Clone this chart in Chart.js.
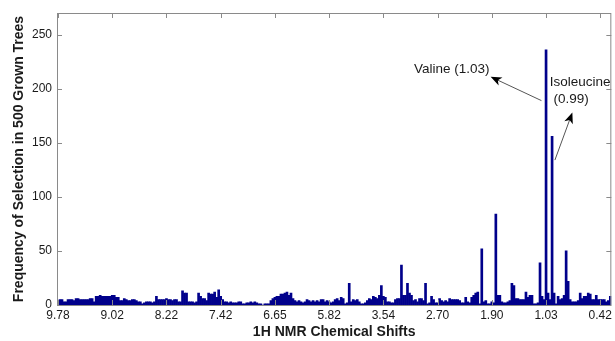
<!DOCTYPE html>
<html>
<head>
<meta charset="utf-8">
<script src="https://cdn.jsdelivr.net/npm/chart.js@4.4.0/dist/chart.umd.min.js"></script>
<style>
  html, body { margin: 0; padding: 0; background: #fff; }
  #wrap { width: 615px; height: 341px; }
</style>
</head>
<body>
<div id="wrap"><canvas id="myChart" width="615" height="341"></canvas></div>
<script>
// tick labels along the x axis (ppm), one every binsPerLabel bars
const shiftLabels = ['9.78', '9.02', '8.22', '7.42', '6.65', '5.82', '3.54', '2.70', '1.90', '1.03', '0.42'];
const binsPerLabel = 27;
const yTicks = [0, 50, 100, 150, 200, 250];

// frequency of selection for each spectral bin, left to right
const frequency = [
  2, 5, 5, 3, 3, 5, 5, 5, 4, 6,
  6, 5, 5, 5, 5, 5, 6, 6, 3, 8,
  8, 9, 8, 8, 8, 8, 8, 9, 9, 7,
  7, 4, 4, 6, 5, 4, 4, 5, 5, 4,
  3, 3, 1, 2, 3, 3, 3, 2, 3, 8,
  5, 5, 5, 5, 6, 5, 5, 4, 5, 5,
  3, 3, 13, 11, 11, 3, 3, 3, 2, 3,
  11, 8, 6, 6, 4, 11, 10, 10, 12, 7,
  14, 8, 5, 3, 3, 2, 3, 2, 2, 2,
  3, 3, 1, 1, 2, 2, 3, 2, 3, 2,
  1, 1, 0, 1, 1, 1, 4, 6, 7, 8,
  8, 10, 10, 11, 12, 9, 11, 6, 4, 3,
  4, 3, 2, 3, 5, 4, 3, 4, 3, 4,
  3, 5, 5, 3, 4, 3, 2, 3, 5, 6,
  4, 7, 6, 1, 2, 20, 3, 5, 4, 5,
  3, 1, 1, 2, 4, 6, 5, 8, 7, 6,
  9, 18, 8, 7, 3, 3, 2, 2, 5, 6,
  6, 37, 9, 9, 20, 11, 9, 4, 5, 3,
  6, 6, 4, 20, 1, 2, 8, 5, 2, 2,
  6, 4, 3, 4, 3, 6, 5, 5, 5, 5,
  4, 2, 2, 7, 3, 2, 7, 9, 11, 12,
  1, 52, 3, 4, 1, 1, 3, 2, 84, 9,
  9, 3, 2, 2, 3, 4, 20, 18, 6, 6,
  5, 5, 5, 12, 7, 9, 9, 1, 1, 2,
  39, 8, 5, 236, 11, 5, 156, 11, 1, 8,
  5, 6, 9, 50, 22, 5, 3, 3, 3, 4,
  11, 6, 8, 8, 11, 10, 5, 5, 9, 5,
  5, 5, 5, 3, 4, 8
];
const bins = frequency.map((v, i) => i);

// callouts, in data units (bin index, frequency)
const notes = [
  { text: ['Valine (1.03)'], at: [177.2, 218], tail: [240.7, 189], head: [215.4, 211] },
  { text: ['Isoleucine', ' (0.99)'], at: [244.8, 206], tail: [247.4, 134], head: [256.1, 178] }
];

const font = '"Liberation Sans", Arial, sans-serif';
const axisGray = '#8a8a8a';

// matlab style box with inward ticks, plus the callouts
const matlabBox = {
  id: 'matlabBox',
  afterDatasetsDraw(chart) {
    const {ctx, chartArea: a, scales: {x, y}} = chart;
    ctx.save();
    ctx.strokeStyle = axisGray;
    ctx.lineWidth = 1;
    ctx.strokeRect(a.left + 0.5, a.top + 0.5, a.right - a.left - 1, a.bottom - a.top);
    ctx.beginPath();
    shiftLabels.forEach((l, k) => {
      const px = Math.round(x.getPixelForValue(k * binsPerLabel)) + 0.5;
      ctx.moveTo(px, a.bottom); ctx.lineTo(px, a.bottom - 5);
      ctx.moveTo(px, a.top); ctx.lineTo(px, a.top + 5);
    });
    yTicks.forEach(v => {
      const py = Math.round(y.getPixelForValue(v)) + 0.5;
      ctx.moveTo(a.left, py); ctx.lineTo(a.left + 5, py);
      ctx.moveTo(a.right, py); ctx.lineTo(a.right - 5, py);
    });
    ctx.stroke();

    ctx.font = '13.5px ' + font;
    ctx.fillStyle = '#1a1a1a';
    ctx.textBaseline = 'middle';
    notes.forEach(n => {
      const tx = x.getPixelForValue(n.at[0]), ty = y.getPixelForValue(n.at[1]);
      n.text.forEach((t, j) => ctx.fillText(t, tx, ty + j * 17));
      const x0 = x.getPixelForValue(n.tail[0]), y0 = y.getPixelForValue(n.tail[1]);
      const x1 = x.getPixelForValue(n.head[0]), y1 = y.getPixelForValue(n.head[1]);
      const ang = Math.atan2(y1 - y0, x1 - x0);
      ctx.strokeStyle = '#555';
      ctx.beginPath(); ctx.moveTo(x0, y0); ctx.lineTo(x1 - 8 * Math.cos(ang), y1 - 8 * Math.sin(ang)); ctx.stroke();
      ctx.fillStyle = '#000';
      ctx.beginPath();
      ctx.moveTo(x1, y1);
      ctx.lineTo(x1 - 11 * Math.cos(ang) + 4.5 * Math.sin(ang), y1 - 11 * Math.sin(ang) - 4.5 * Math.cos(ang));
      ctx.lineTo(x1 - 8 * Math.cos(ang), y1 - 8 * Math.sin(ang));
      ctx.lineTo(x1 - 11 * Math.cos(ang) - 4.5 * Math.sin(ang), y1 - 11 * Math.sin(ang) + 4.5 * Math.cos(ang));
      ctx.closePath(); ctx.fill();
      ctx.fillStyle = '#1a1a1a';
    });
    ctx.restore();
  }
};

const ctx = document.getElementById('myChart');
new Chart(ctx, {
  type: 'bar',
  data: {
    labels: bins,
    datasets: [{
      data: frequency,
      backgroundColor: '#00008b',
      borderWidth: 0,
      barPercentage: 1,
      categoryPercentage: 1
    }]
  },
  options: {
    responsive: false,
    animation: false,
    devicePixelRatio: 1,
    layout: { padding: { top: 13, right: 2, left: 0, bottom: 0 } },
    plugins: { legend: { display: false }, tooltip: { enabled: false } },
    scales: {
      x: {
        grid: { display: false, drawTicks: false },
        border: { display: false },
        afterFit: s => { s.height = 36; },
        ticks: {
          autoSkip: false, maxRotation: 0, minRotation: 0, padding: 3,
          color: '#1a1a1a', font: { family: font, size: 12 },
          callback: (v, i) => i % binsPerLabel === 0 ? shiftLabels[i / binsPerLabel] : null
        },
        title: {
          display: true, text: '1H NMR Chemical Shifts', color: '#1a1a1a',
          font: { family: font, size: 14, weight: 'bold' }, padding: { top: 0, bottom: 0 }
        }
      },
      y: {
        min: 0, max: 270,
        grid: { display: false, drawTicks: false },
        border: { display: false },
        afterFit: s => { s.width = 57; },
        ticks: {
          stepSize: 50, includeBounds: false, padding: 5,
          color: '#1a1a1a', font: { family: font, size: 12 }
        },
        title: {
          display: true, text: 'Frequency of Selection in 500 Grown Trees', color: '#1a1a1a',
          font: { family: font, size: 14, weight: 'bold' }, padding: { top: 11, bottom: 0 }
        }
      }
    }
  },
  plugins: [matlabBox]
});
</script>
</body>
</html>
